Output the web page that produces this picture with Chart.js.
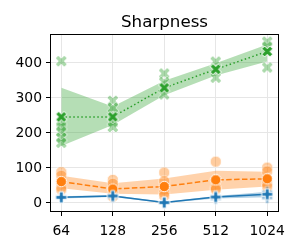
<!DOCTYPE html>
<html>
<head>
<meta charset="utf-8">
<script src="https://cdn.jsdelivr.net/npm/chart.js@4/dist/chart.umd.min.js"></script>
<style>
  html, body { margin: 0; padding: 0; background: #fff; }
  #wrap { width: 300px; height: 250px; }
</style>
</head>
<body>
<div id="wrap"><canvas id="chart" width="300" height="250"></canvas></div>
<script>
// ── Data ──────────────────────────────────────────────────────
const batchSizes = ['64', '128', '256', '512', '1024'];
const yTicks = [0, 100, 200, 300, 400];
const chartTitle = 'Sharpness';

const blueMean = [16, 20, 1, 17, 25];
const blueLow  = [13, 17, 0, 13, 16];
const blueHigh = [19, 23, 3, 20, 32];
const blueRuns = [[18, 14], [22, 16], [2, 0], [19, 12], [32, 22, 14]];

const orangeMean = [61, 40, 47, 66, 69];
const orangeLow  = [42, 26, 24, 38, 47];
const orangeHigh = [78, 56, 70, 92, 89];
const orangeRuns = [[88, 78, 45, 38], [66, 55, 28, 18], [87, 62, 28, 20], [118, 66, 43, 38], [101, 90, 55, 46]];

const greenMean = [246, 246, 329, 382, 433];
const greenLow  = [163, 223, 308, 364, 404];
const greenHigh = [329, 276, 349, 399, 453];
const greenRuns = [[405, 230, 218, 204, 186, 172], [292, 272, 230, 217], [370, 345, 310], [404, 383, 358], [461, 447, 387]];

// ── Colours ───────────────────────────────────────────────────
const BLUE = '#1f77b4', ORANGE = '#ff7f0e', GREEN = '#2ca02c';
const rgba = (hex, a) => {
  const n = parseInt(hex.slice(1), 16);
  return `rgba(${n >> 16},${(n >> 8) & 255},${n & 255},${a})`;
};

// ── Marker images (filled plus / filled x / circle, white edge) ──
function marker(shape, color, size, alpha = 1) {
  const dim = Math.ceil(size) + 4;
  const c = document.createElement('canvas');
  c.width = c.height = dim;
  const g = c.getContext('2d');
  const m = dim / 2, h = size / 2;
  g.beginPath();
  if (shape === 'circle') {
    g.arc(m, m, h, 0, Math.PI * 2);
  } else {
    const hh = shape === 'x' ? h * 1.06 : h;
    const w = hh / 3;
    const pts = [[-w,-hh],[w,-hh],[w,-w],[hh,-w],[hh,w],[w,w],[w,hh],[-w,hh],[-w,w],[-hh,w],[-hh,-w],[-w,-w]];
    const a = shape === 'x' ? Math.PI / 4 : 0;
    const cs = Math.cos(a), sn = Math.sin(a);
    pts.forEach(([px, py], k) => {
      const x = m + px * cs - py * sn, y = m + px * sn + py * cs;
      k ? g.lineTo(x, y) : g.moveTo(x, y);
    });
  }
  g.closePath();
  g.fillStyle = color;
  g.fill();
  g.strokeStyle = '#fff';
  g.lineWidth = 1;
  g.stroke();
  if (alpha >= 1) return c;
  const out = document.createElement('canvas');
  out.width = out.height = dim;
  const o = out.getContext('2d');
  o.globalAlpha = alpha;
  o.drawImage(c, 0, 0);
  return out;
}

const xy = arr => arr.map((v, i) => ({ x: i, y: v }));
const runsXY = runs => runs.flatMap((vals, i) => vals.map(v => ({ x: i, y: v })));

// ── Dataset builders ──────────────────────────────────────────
function band(low, high, color, order) {
  return [
    { data: xy(high), borderWidth: 0, pointRadius: 0, fill: '+1', backgroundColor: rgba(color, 0.35), order },
    { data: xy(low), borderWidth: 0, pointRadius: 0, fill: false, order }
  ];
}
function runs(r, shape, color, size, order) {
  return { data: runsXY(r), showLine: false, pointStyle: marker(shape, color, size, 0.4), order };
}
function meanLine(vals, shape, color, dash, order) {
  return {
    data: xy(vals), borderColor: color, borderWidth: 1.5, borderDash: dash,
    pointStyle: marker(shape, color, shape === 'circle' ? 10.5 : 11), fill: false, order
  };
}

const datasets = [
  ...band(blueLow, blueHigh, BLUE, 30),
  ...band(orangeLow, orangeHigh, ORANGE, 30),
  ...band(greenLow, greenHigh, GREEN, 30),
  runs(blueRuns, 'plus', BLUE, 11.5, 20),
  runs(orangeRuns, 'circle', ORANGE, 11.5, 20),
  runs(greenRuns, 'x', GREEN, 12, 20),
  meanLine(blueMean, 'plus', BLUE, [], 10),
  meanLine(orangeMean, 'circle', ORANGE, [5.5, 2.4], 10),
  meanLine(greenMean, 'x', GREEN, [1.5, 2.5], 10)
];

// ── Frame (all four spines) + title centred over the plot area ──
const framePlugin = {
  id: 'frame',
  afterDatasetsDraw(chart) {
    const { ctx, chartArea: a } = chart;
    ctx.save();
    ctx.strokeStyle = '#000';
    ctx.lineWidth = 1;
    ctx.strokeRect(Math.round(a.left) - 0.5, Math.round(a.top) - 0.5,
                   Math.round(a.right - a.left) + 1, Math.round(a.bottom - a.top) + 1);
    ctx.fillStyle = '#000';
    ctx.font = '16.7px "DejaVu Sans"';
    ctx.textAlign = 'center';
    ctx.textBaseline = 'alphabetic';
    ctx.fillText(chartTitle, (a.left + a.right) / 2, 27);
    ctx.restore();
  }
};

const tickFont = { family: 'DejaVu Sans', size: 13.9 };

new Chart(document.getElementById('chart'), {
  type: 'line',
  data: { datasets },
  plugins: [framePlugin],
  options: {
    responsive: false,
    animation: false,
    layout: { padding: { left: 0, right: 22, top: 35, bottom: 0 } },
    plugins: {
      legend: { display: false },
      tooltip: { enabled: false },
      title: { display: false }
    },
    scales: {
      x: {
        type: 'linear', min: -0.2, max: 4.21,
        afterBuildTicks: s => { s.ticks = batchSizes.map((_, i) => ({ value: i })); },
        afterFit: s => { s.height = 39; },
        ticks: { callback: v => batchSizes[v], color: '#000', font: tickFont, padding: 7, maxRotation: 0 },
        grid: { color: '#e6e6e6', tickColor: '#000', tickLength: 5 },
        border: { display: false }
      },
      y: {
        min: -23, max: 480,
        afterBuildTicks: s => { s.ticks = yTicks.map(v => ({ value: v })); },
        afterFit: s => { s.width = 51; },
        ticks: { color: '#000', font: tickFont, padding: 4 },
        grid: { color: '#e6e6e6', tickColor: '#000', tickLength: 5 },
        border: { display: false }
      }
    }
  }
});
</script>
</body>
</html>
